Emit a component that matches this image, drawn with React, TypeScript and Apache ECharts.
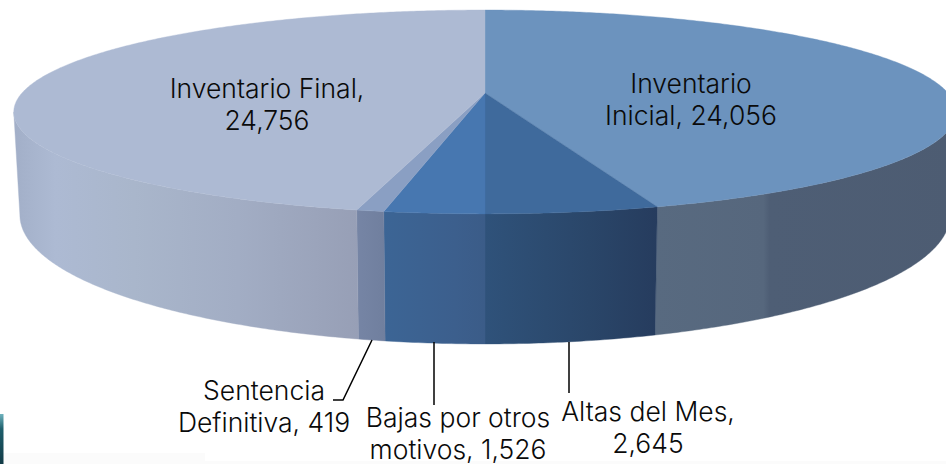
import React, { useEffect, useRef } from "react";
import * as echarts from "echarts";

const categories = ["Inventario Inicial", "Altas del Mes", "Bajas por otros motivos", "Sentencia Definitiva", "Inventario Final"];
const values = [24056, 2645, 1526, 419, 24756];
const valueLabels = ["24,056", "2,645", "1,526", "419", "24,756"];

const topColors = ["#6C93BE", "#3F6A9C", "#4777B0", "#8A9FC3", "#ADBAD3"];
const sideStops: [number, string][][] = [
  [[0, "#586A80"], [0.36, "#56677D"], [0.38, "#4E5E75"], [1, "#4D5C72"]],
  [[0, "#2F527A"], [0.6, "#2A4669"], [1, "#263C5E"]],
  [[0, "#3C6595"], [0.7, "#3C5F8D"], [1, "#3B5C88"]],
  [[0, "#7685A5"], [1, "#707F9E"]],
  [[0, "#A2AFC8"], [0.12, "#ADBAD3"], [0.35, "#A9B6CB"], [0.65, "#A2ADC4"], [1, "#979FB6"]],
];

const FONT = "Inter";
const FONT_SIZE = 26.5;
const TOP = { cy: 93, a: 463, b: 98.4 };
const BOTTOM = { cy: 191, a: 457, b: 124.5 };
const K = 0.186;
const CX = 485;
const RIGHT_SILHOUETTE = 100.7;
const LEFT_SILHOUETTE = 259.3;

const total = values.reduce((s, v) => s + v, 0);
function sliceRange(i: number): [number, number] {
  let acc = 0;
  for (let j = 0; j < i; j++) acc += values[j];
  return [(acc / total) * 360, ((acc + values[i]) / total) * 360];
}
function project(deg: number, disc: { cy: number; a: number; b: number }): number[] {
  const t = (deg * Math.PI) / 180;
  const X = Math.sin(t);
  const Y = -Math.cos(t);
  const w = 1 - K * Y;
  return [CX + (disc.a * X) / w, disc.cy + (disc.b * Y) / w];
}
function arc(from: number, to: number, disc: { cy: number; a: number; b: number }): number[][] {
  const n = Math.max(2, Math.ceil(Math.abs(to - from) / 0.5));
  const out: number[][] = [];
  for (let i = 0; i <= n; i++) out.push(project(from + ((to - from) * i) / n, disc));
  return out;
}

const labelLayout = [
  { text: "Inventario\nInicial, " + valueLabels[0], x: 691, y: 99 },
  { text: "Altas del Mes,\n" + valueLabels[1], x: 648, y: 427 },
  { text: "Bajas por otros\nmotivos, " + valueLabels[2], x: 458, y: 433 },
  { text: "Sentencia\nDefinitiva, " + valueLabels[3], x: 264, y: 406 },
  { text: "Inventario Final,\n" + valueLabels[4], x: 267, y: 104 },
];
const leaders = [
  [[569, 342], [569, 393]],
  [[434, 342], [434, 405]],
  [[372, 340], [343, 400], [333, 400]],
];

export default function App() {
  const ref = useRef<HTMLDivElement>(null);
  useEffect(() => {
    document.body.style.margin = "0";
    const chart = echarts.init(ref.current!, null, { renderer: "svg" });
    const data = values.map((v, i) => ({ name: categories[i], value: v }));
    chart.setOption({
      animation: false,
      backgroundColor: "#FFFFFF",
      series: [
        {
          type: "custom",
          coordinateSystem: "none",
          silent: true,
          z: 1,
          data,
          renderItem: (params: any) => {
            const i = params.dataIndex;
            const [s, e] = sliceRange(i);
            const from = Math.max(s, RIGHT_SILHOUETTE);
            const to = Math.min(e, LEFT_SILHOUETTE);
            if (to <= from) return null;
            const pts = [...arc(from, to, TOP), ...arc(to, from, BOTTOM)];
            const fill = {
              type: "linear", x: 0, y: 0, x2: 1, y2: 0,
              colorStops: sideStops[i].map(([offset, color]) => ({ offset, color })),
            };
            return { type: "polygon", shape: { points: pts }, style: { fill, stroke: fill, lineWidth: 0.4 } };
          },
        },
        {
          type: "custom",
          coordinateSystem: "none",
          silent: true,
          z: 2,
          data,
          renderItem: (params: any) => {
            const i = params.dataIndex;
            const [s, e] = sliceRange(i);
            const pts = [[CX, TOP.cy], ...arc(s, e, TOP)];
            return { type: "polygon", shape: { points: pts }, style: { fill: topColors[i], stroke: topColors[i], lineWidth: 0.4 } };
          },
        },
      ],
      graphic: [
        { type: "rect", z: 0, shape: { x: 0, y: 453, width: 205, height: 11 }, style: { fill: "#FBFBFB" } },
        { type: "rect", z: 0, shape: { x: 205, y: 461, width: 741, height: 3 }, style: { fill: "#FBFBFB" } },
        {
          type: "rect", z: 0, shape: { x: 0, y: 414, width: 3.5, height: 50 },
          style: { fill: { type: "linear", x: 0, y: 0, x2: 0, y2: 1, colorStops: [{ offset: 0, color: "#6FB3BE" }, { offset: 0.3, color: "#1E5F6C" }, { offset: 1, color: "#123A46" }] } },
        },
        ...leaders.map((points) => ({
          type: "polyline", z: 5, shape: { points }, style: { stroke: "#000000", lineWidth: 1.5, fill: "none" },
        })),
        ...labelLayout.map((l) => ({
          type: "text", z: 6, x: l.x, y: l.y,
          style: {
            text: l.text, fill: "#0A0A0A", font: `300 ${FONT_SIZE}px ${FONT}, sans-serif`,
            align: "center", verticalAlign: "middle", lineHeight: 32,
          },
        })),
      ],
    });
    return () => chart.dispose();
  }, []);
  return <div ref={ref} style={{ width: 946, height: 464 }} />;
}
